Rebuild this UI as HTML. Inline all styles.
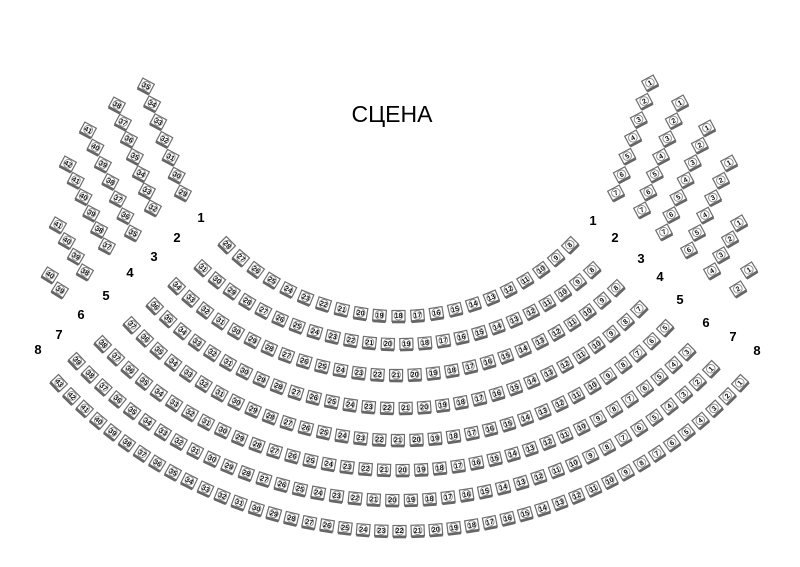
<!DOCTYPE html>
<html><head><meta charset="utf-8">
<style>
html,body{margin:0;padding:0;background:#fff;}
svg{display:block;}
.rl{font-family:"Liberation Sans",sans-serif;font-weight:bold;font-size:13px;fill:#000;text-anchor:middle;}
.sn{font-family:"Liberation Sans",sans-serif;font-size:7px;font-weight:bold;fill:#111;text-anchor:middle;}
</style></head>
<body>
<svg id="s" width="800" height="567" viewBox="0 0 800 567" xmlns="http://www.w3.org/2000/svg">
<text x="392" y="122" font-family="Liberation Sans, sans-serif" font-size="23" text-anchor="middle" fill="#000">СЦЕНА</text>
<text class="rl" x="201" y="222">1</text>
<text class="rl" x="177" y="242">2</text>
<text class="rl" x="154" y="261">3</text>
<text class="rl" x="130" y="277">4</text>
<text class="rl" x="106" y="300">5</text>
<text class="rl" x="81" y="319">6</text>
<text class="rl" x="59" y="339">7</text>
<text class="rl" x="38" y="354">8</text>
<text class="rl" x="593" y="225">1</text>
<text class="rl" x="615" y="242">2</text>
<text class="rl" x="641" y="263">3</text>
<text class="rl" x="660" y="281">4</text>
<text class="rl" x="680" y="304">5</text>
<text class="rl" x="706" y="327">6</text>
<text class="rl" x="733" y="341">7</text>
<text class="rl" x="757" y="355">8</text>
<g id="seats"></g>
</svg>
<script>
(function(){
var g=document.getElementById('seats');var NS='http://www.w3.org/2000/svg';
function seat(x,y,a,n){
 var t=document.createElementNS(NS,'g');
 t.setAttribute('transform','translate('+x.toFixed(1)+','+y.toFixed(1)+') rotate('+a.toFixed(1)+')');
 var r=document.createElementNS(NS,'rect');
 r.setAttribute('x',-6.5);r.setAttribute('y',-5.5);r.setAttribute('width',13);r.setAttribute('height',11);
 r.setAttribute('fill','#fff');r.setAttribute('stroke','#6e6e6e');r.setAttribute('stroke-width','1.2');
 t.appendChild(r);
 var l=document.createElementNS(NS,'rect');
 l.setAttribute('x',-6.5);l.setAttribute('y',4.5);l.setAttribute('width',13);l.setAttribute('height',2.8);
 l.setAttribute('fill','#666');t.appendChild(l);
 var c=document.createElementNS(NS,'circle');c.setAttribute('cx',0);c.setAttribute('cy',-0.3);c.setAttribute('r',4.3);
 c.setAttribute('fill','none');c.setAttribute('stroke','#888');c.setAttribute('stroke-width','0.9');t.appendChild(c);
 var s=document.createElementNS(NS,'text');s.setAttribute('class','sn');s.setAttribute('y',2.2);
 s.textContent=n;t.appendChild(s);g.appendChild(t);
}
function circ(p1,p2,p3){
 var ax=p1[0],ay=p1[1],bx=p2[0],by=p2[1],cx=p3[0],cy=p3[1];
 var d=2*(ax*(by-cy)+bx*(cy-ay)+cx*(ay-by));
 var ux=((ax*ax+ay*ay)*(by-cy)+(bx*bx+by*by)*(cy-ay)+(cx*cx+cy*cy)*(ay-by))/d;
 var uy=((ax*ax+ay*ay)*(cx-bx)+(bx*bx+by*by)*(ax-cx)+(cx*cx+cy*cy)*(bx-ax))/d;
 return [ux,uy,Math.hypot(ax-ux,ay-uy)];
}
var rows=[
 [[227,245],316,[570,245],28,8],
 [[203,268],344,[592,270],31,8],
 [[177,286],375,[616,288],34,8],
 [[155,306],408,[639,309],36,7],
 [[132,325],440,[665,328],37,5],
 [[103,344],470,[687,352],38,3],
 [[77,361],500,[711,369],39,1],
 [[59,383],531,[740,383],43,1]
];
rows.forEach(function(r){
 var c=circ(r[0],[400,r[1]],r[2]);
 var a1=Math.atan2(r[0][1]-c[1],r[0][0]-c[0]);
 var a2=Math.atan2(r[2][1]-c[1],r[2][0]-c[0]);
 var n=r[3]-r[4];
 for(var i=0;i<=n;i++){
  var a=a1+(a2-a1)*i/n;
  var x=c[0]+c[2]*Math.cos(a),y=c[1]+c[2]*Math.sin(a);
  seat(x,y,a*180/Math.PI-90,r[3]-i);
 }
});
var wings=[
 [[146,86],[183,193],35,29,28],
 [[117,105],[153,208],38,32,28],
 [[88,130],[133,233],41,35,28],
 [[68,164],[107,246],42,37,28],
 [[58,225],[85,272],41,38,30],
 [[50,275],[60,290],40,39,32],
 [[650,83],[616,193],1,7,-28],
 [[680,103],[642,210],1,7,-28],
 [[707,128],[664,232],1,7,-28],
 [[729,163],[689,250],1,6,-28],
 [[739,223],[712,271],1,4,-30],
 [[749,270],[738,289],1,2,-32]
];
wings.forEach(function(w){
 var n=Math.abs(w[3]-w[2]),st=w[3]>w[2]?1:-1;
 for(var i=0;i<=n;i++){
  var t=i/n;
  seat(w[0][0]+(w[1][0]-w[0][0])*t,w[0][1]+(w[1][1]-w[0][1])*t,w[4],w[2]+st*i);
 }
});
})();
</script>
</body></html>
